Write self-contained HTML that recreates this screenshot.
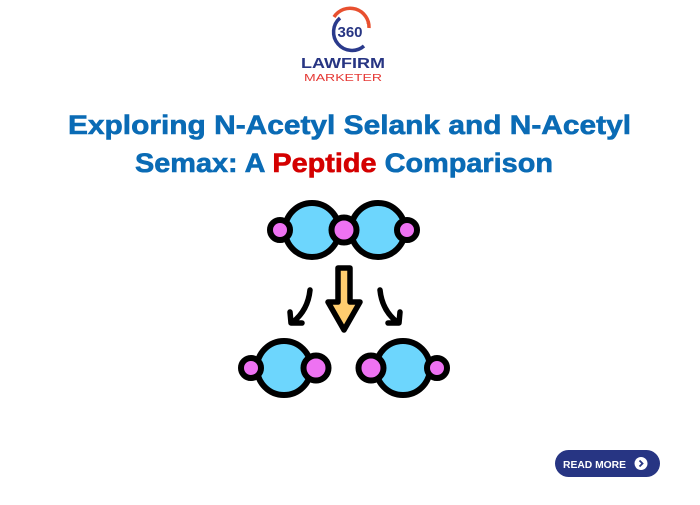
<!DOCTYPE html>
<html><head><style>
body{margin:0;width:700px;height:500px;background:#fff;overflow:hidden}
</style></head><body>
<svg width="700" height="500" viewBox="0 0 700 500" xmlns="http://www.w3.org/2000/svg">
<!-- logo -->
<path d="M340 18 A18 18 0 1 0 364 46" fill="none" stroke="#2a3a8c" stroke-width="3.5"/>
<path d="M334 17 A19 19 0 0 1 369 28" fill="none" stroke="#e8502f" stroke-width="3.5"/>
<text x="350" y="37" font-family="Liberation Sans,sans-serif" font-weight="bold" font-size="15" fill="#273583" text-anchor="middle">360</text>
<text x="366" y="27" font-family="Liberation Sans,sans-serif" font-size="7" fill="#e8502f">°</text>
<text x="343" y="68" font-family="Liberation Sans,sans-serif" font-weight="bold" font-size="15" fill="#273583" text-anchor="middle" textLength="84" lengthAdjust="spacingAndGlyphs">LAWFIRM</text>
<text x="343" y="81" font-family="Liberation Sans,sans-serif" font-size="10" fill="#e53935" text-anchor="middle" textLength="78" lengthAdjust="spacingAndGlyphs">MARKETER</text>
<!-- title -->
<text x="68" y="134" font-family="Liberation Sans,sans-serif" font-weight="bold" font-size="27" fill="#0a6bb5" stroke="#0a6bb5" stroke-width="0.6" textLength="563" lengthAdjust="spacingAndGlyphs">Exploring N-Acetyl Selank and N-Acetyl</text>
<text x="135" y="172" font-family="Liberation Sans,sans-serif" font-weight="bold" font-size="27" fill="#0a6bb5" stroke="#0a6bb5" stroke-width="0.6" textLength="418" lengthAdjust="spacingAndGlyphs">Semax: A <tspan fill="#d40000" stroke="#d40000">Peptide</tspan> Comparison</text>
<!-- molecules -->
<g stroke="#000" stroke-width="6">
<circle cx="312" cy="230" r="27" fill="#6dd6fd"/>
<circle cx="378" cy="230" r="27" fill="#6dd6fd"/>
<circle cx="280" cy="230" r="10" fill="#ee72f2"/>
<circle cx="407" cy="230" r="10" fill="#ee72f2"/>
<circle cx="344" cy="230" r="12.5" fill="#ee72f2"/>
<circle cx="284" cy="368" r="27" fill="#6dd6fd"/>
<circle cx="251" cy="368" r="10" fill="#ee72f2"/>
<circle cx="316" cy="368" r="12.5" fill="#ee72f2"/>
<circle cx="403" cy="368" r="27" fill="#6dd6fd"/>
<circle cx="371" cy="368" r="12.5" fill="#ee72f2"/>
<circle cx="437" cy="368" r="10" fill="#ee72f2"/>
<path d="M338 268 L350 268 L350 302 L360 302 L344 330 L328 302 L338 302 Z" fill="#ffcd6f" stroke-width="5.5" stroke-linejoin="round"/>
<g fill="none" stroke-linecap="round" stroke-linejoin="round" stroke-width="5.5">
<path d="M310 290 Q308 310 293 322"/>
<path d="M290 312 L291 323 L302 323"/>
<path d="M380 290 Q382 310 397 322"/>
<path d="M400 312 L399 323 L388 323"/>
</g>
</g>
<!-- button -->
<rect x="555" y="450" width="105" height="27" rx="13.5" fill="#273583"/>
<text x="563" y="468" font-family="Liberation Sans,sans-serif" font-weight="bold" font-size="10.5" fill="#fff" textLength="63" lengthAdjust="spacingAndGlyphs">READ MORE</text>
<circle cx="641" cy="463.5" r="6.5" fill="#fff"/>
<path d="M639.5 460.5 L642.5 463.5 L639.5 466.5" fill="none" stroke="#273583" stroke-width="1.8"/>
</svg>
</body></html>
